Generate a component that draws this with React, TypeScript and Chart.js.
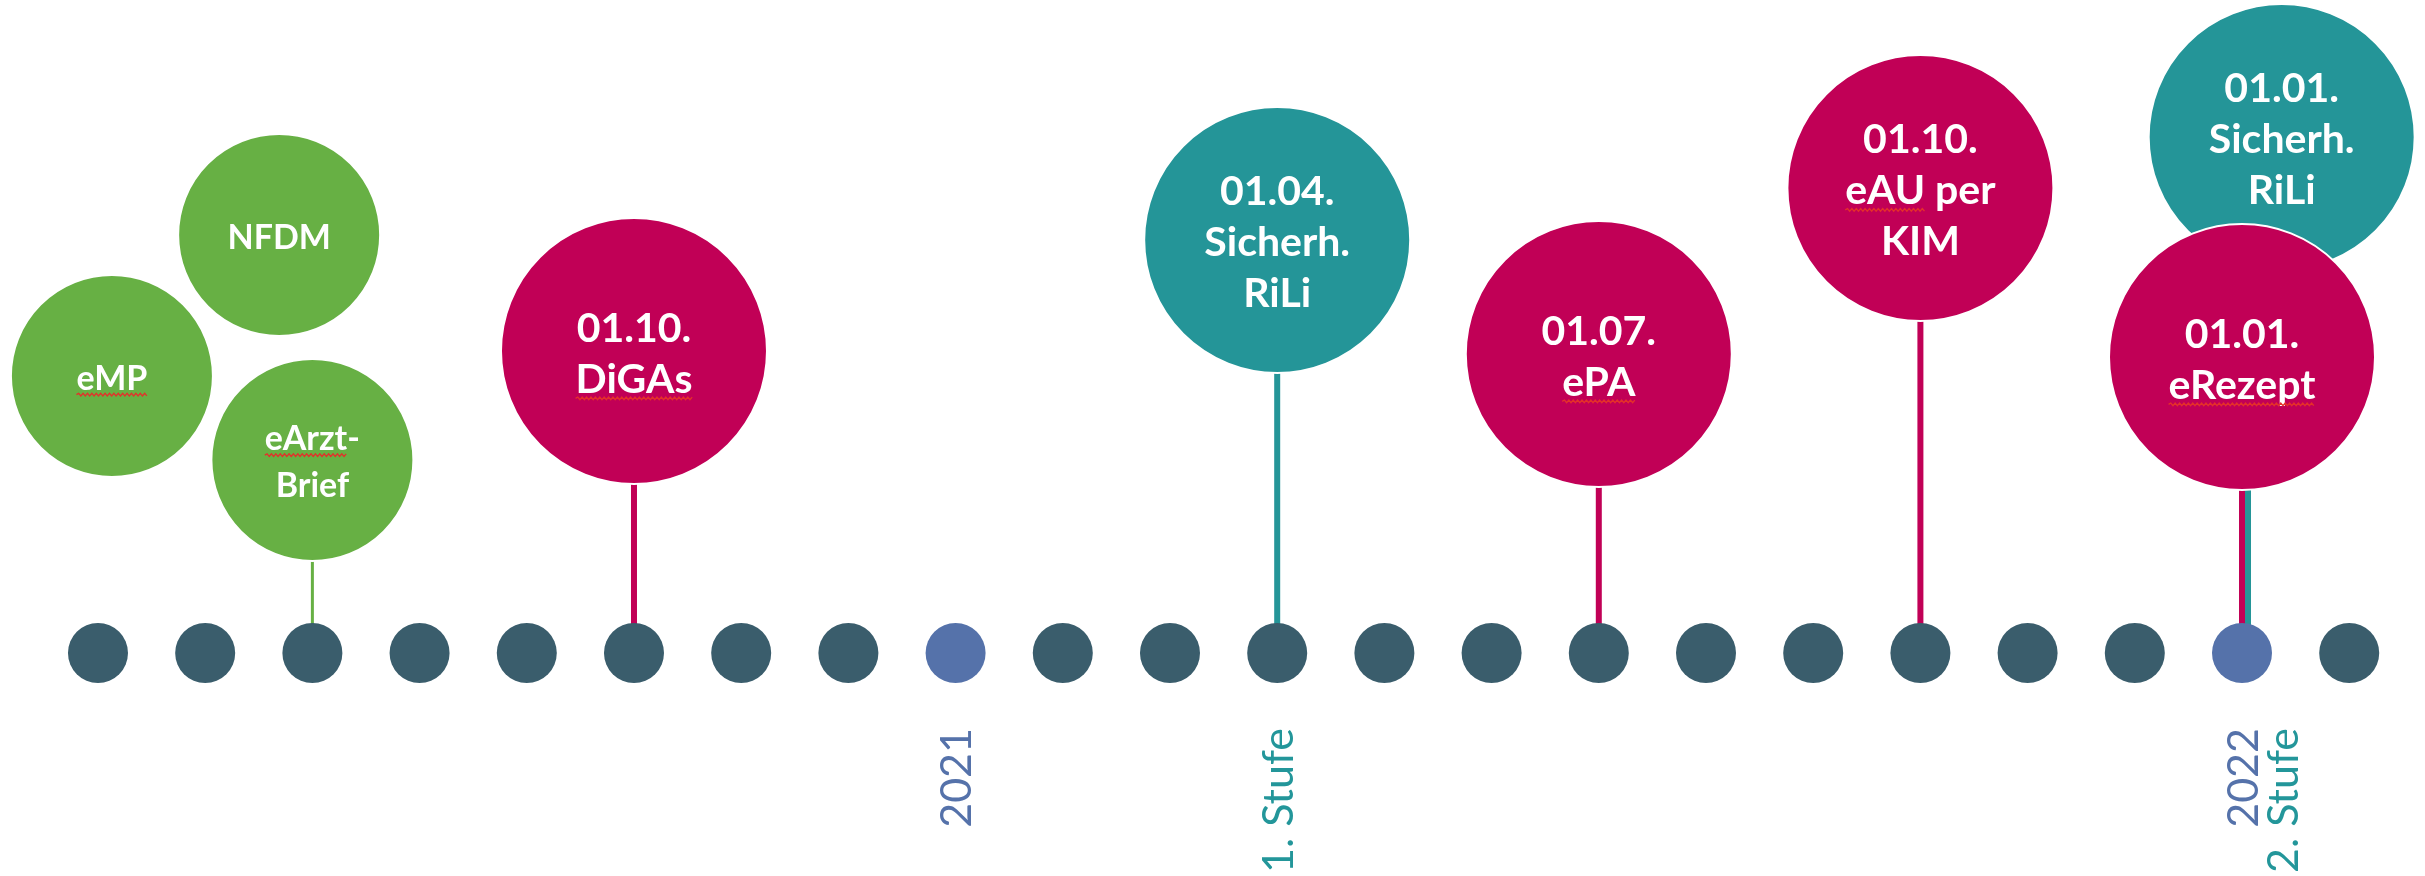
import React, { useEffect, useRef } from "react";
import { Chart, registerables } from "chart.js";

Chart.register(...registerables);

// ---------- data ----------
const months = [
  "05/2020", "06/2020", "07/2020", "08/2020", "09/2020", "10/2020", "11/2020", "12/2020",
  "01/2021", "02/2021", "03/2021", "04/2021", "05/2021", "06/2021", "07/2021", "08/2021",
  "09/2021", "10/2021", "11/2021", "12/2021", "01/2022", "02/2022",
];

const yearTickIndex = [8, 20];
const yearTickLabels = ["2021", "2022"];
const stageTickIndex = [11, 20];
const stageTickLabels = ["1. Stufe", "2. Stufe"];

// events (order = drawing order, later ones on top)
const eventLabels = [
  ["NFDM"],
  ["eMP"],
  ["eArzt-", "Brief"],
  ["01.10.", "DiGAs"],
  ["01.04.", "Sicherh.", "RiLi"],
  ["01.07.", "ePA"],
  ["01.10.", "eAU per", "KIM"],
  ["01.01.", "Sicherh.", "RiLi"],
  ["01.01.", "eRezept"],
];
const eventKind = ["ti", "ti", "ti", "app", "security", "app", "app", "security", "app"];
const eventX = [1.69, 0.13, 2, 5, 11, 14, 17, 20.37, 20];
const eventLevel = [4.18, 2.77, 1.93, 3.02, 4.13, 2.99, 4.65, 5.16, 2.96];
const eventStemMonth: (number | null)[] = [null, null, 2, 5, 11, 14, 17, 20, 20];

const spellFlagged = ["eMP", "eArzt", "DiGAs", "ePA", "eAU", "eRezept"];

// ---------- styles ----------
const W = 2425;
const H = 876;
const X_MIN = -0.914;
const X_MAX = 21.707;
const Y_MIN = -2.23;
const Y_MAX = 6.53;

const kindColor: Record<string, string> = {
  ti: "#67B044",
  app: "#C10056",
  security: "#249598",
};
const kindRadius: Record<string, number> = { ti: 101, app: 133, security: 133 };
const kindFont: Record<string, number> = { ti: 34, app: 41, security: 41 };
const kindLineHeight: Record<string, number> = { ti: 47, app: 51, security: 51 };
const kindStemWidth: Record<string, number> = { ti: 3, app: 6, security: 6 };

const dotColor = "#3A5D6C";
const yearDotColor = "#5572AA";
const yearLabelColor = "#5572AA";
const stageLabelColor = "#23969A";
const sharedStemShiftPx = 6;

const pxPerUnitX = W / (X_MAX - X_MIN);

function drawWavy(ctx: CanvasRenderingContext2D, x0: number, x1: number, y: number) {
  ctx.save();
  ctx.strokeStyle = "#E4302A";
  ctx.lineWidth = 1.3;
  ctx.beginPath();
  let up = true;
  ctx.moveTo(x0, y);
  for (let x = x0 + 2.2; x <= x1; x += 2.2) {
    ctx.lineTo(x, y + (up ? -1.3 : 1.3));
    up = !up;
  }
  ctx.stroke();
  ctx.restore();
}

const BUBBLE_DATASET = 0;

const timelinePlugin = {
  id: "timelineLabels",
  afterDatasetsDraw(chart: any) {
    const ctx: CanvasRenderingContext2D = chart.ctx;
    const meta = chart.getDatasetMeta(BUBBLE_DATASET);
    meta.data.forEach((el: any, i: number) => {
      const lines = eventLabels[i];
      const kind = eventKind[i];
      const fs = kindFont[kind];
      const lh = kindLineHeight[kind];
      ctx.save();
      ctx.font = `bold ${fs}px Lato`;
      ctx.fillStyle = "#ffffff";
      ctx.textAlign = "center";
      ctx.textBaseline = "middle";
      const y0 = el.y + 3 - ((lines.length - 1) * lh) / 2;
      lines.forEach((line, j) => {
        const ly = y0 + j * lh;
        ctx.fillText(line, el.x, ly);
        const word = spellFlagged.find((w) => line.startsWith(w));
        if (word) {
          const total = ctx.measureText(line).width;
          const ww = ctx.measureText(word).width;
          const sx = el.x - total / 2;
          drawWavy(ctx, sx, sx + ww, ly + fs * 0.46);
        }
      });
      ctx.restore();
    });

    // rotated labels under the timeline
    const xs = chart.scales.x;
    const ys = chart.scales.y;
    const top = ys.getPixelForValue(0) + 75;
    ctx.save();
    ctx.font = "43px Lato";
    ctx.textAlign = "right";
    ctx.textBaseline = "middle";
    const drawRot = (text: string, x: number, color: string) => {
      ctx.save();
      ctx.translate(x, top);
      ctx.rotate(-Math.PI / 2);
      ctx.fillStyle = color;
      ctx.fillText(text, 0, 0);
      ctx.restore();
    };
    yearTickIndex.forEach((idx, k) => {
      drawRot(yearTickLabels[k], xs.getPixelForValue(idx) + 2, yearLabelColor);
    });
    stageTickIndex.forEach((idx, k) => {
      const sharesYear = yearTickIndex.includes(idx);
      drawRot(stageTickLabels[k], xs.getPixelForValue(idx) + (sharesYear ? 42 : 2), stageLabelColor);
    });
    ctx.restore();
  },
};

export default function App() {
  const ref = useRef<HTMLCanvasElement>(null);

  useEffect(() => {
    if (!ref.current) return;

    const bubbleDataset: any = {
      type: "bubble",
      label: "Meilensteine",
      data: eventX.map((x, i) => ({ x, y: eventLevel[i], r: kindRadius[eventKind[i]] })),
      backgroundColor: eventKind.map((k) => kindColor[k]),
      borderColor: "#ffffff",
      borderWidth: 2,
      hoverRadius: 0,
      order: 1,
      clip: false,
    };

    const dotDataset: any = {
      type: "scatter",
      label: "Monate",
      data: months.map((_, i) => ({ x: i, y: 0 })),
      pointRadius: 30,
      pointHoverRadius: 30,
      pointBorderWidth: 0,
      pointBackgroundColor: months.map((m) => (m.startsWith("01/") ? yearDotColor : dotColor)),
      order: 2,
      clip: false,
    };

    const stemDatasets: any[] = [];
    eventStemMonth.forEach((m, i) => {
      if (m === null) return;
      const sharedLater = eventStemMonth.some((o, j) => j > i && o === m);
      const x = m + (sharedLater ? sharedStemShiftPx / pxPerUnitX : 0);
      stemDatasets.push({
        type: "line",
        label: "stem" + i,
        data: [
          { x, y: 0 },
          { x, y: eventLevel[i] },
        ],
        borderColor: kindColor[eventKind[i]],
        borderWidth: kindStemWidth[eventKind[i]],
        borderCapStyle: "butt",
        pointRadius: 0,
        fill: false,
        tension: 0,
        order: 3,
        clip: false,
      });
    });

    const chart = new Chart(ref.current, {
      type: "scatter",
      data: { datasets: [bubbleDataset, dotDataset, ...stemDatasets] },
      options: {
        responsive: false,
        animation: false,
        devicePixelRatio: 1,
        events: [],
        layout: { padding: 0, autoPadding: false },
        plugins: { legend: { display: false }, tooltip: { enabled: false } },
        scales: {
          x: { type: "linear", min: X_MIN, max: X_MAX, display: false },
          y: { type: "linear", min: Y_MIN, max: Y_MAX, display: false },
        },
      } as any,
      plugins: [timelinePlugin],
    });
    return () => chart.destroy();
  }, []);

  return (
    <div style={{ position: "absolute", left: 0, top: 0, width: W, height: H, background: "#ffffff" }}>
      <canvas ref={ref} width={W} height={H} style={{ display: "block", width: W, height: H }} />
    </div>
  );
}
